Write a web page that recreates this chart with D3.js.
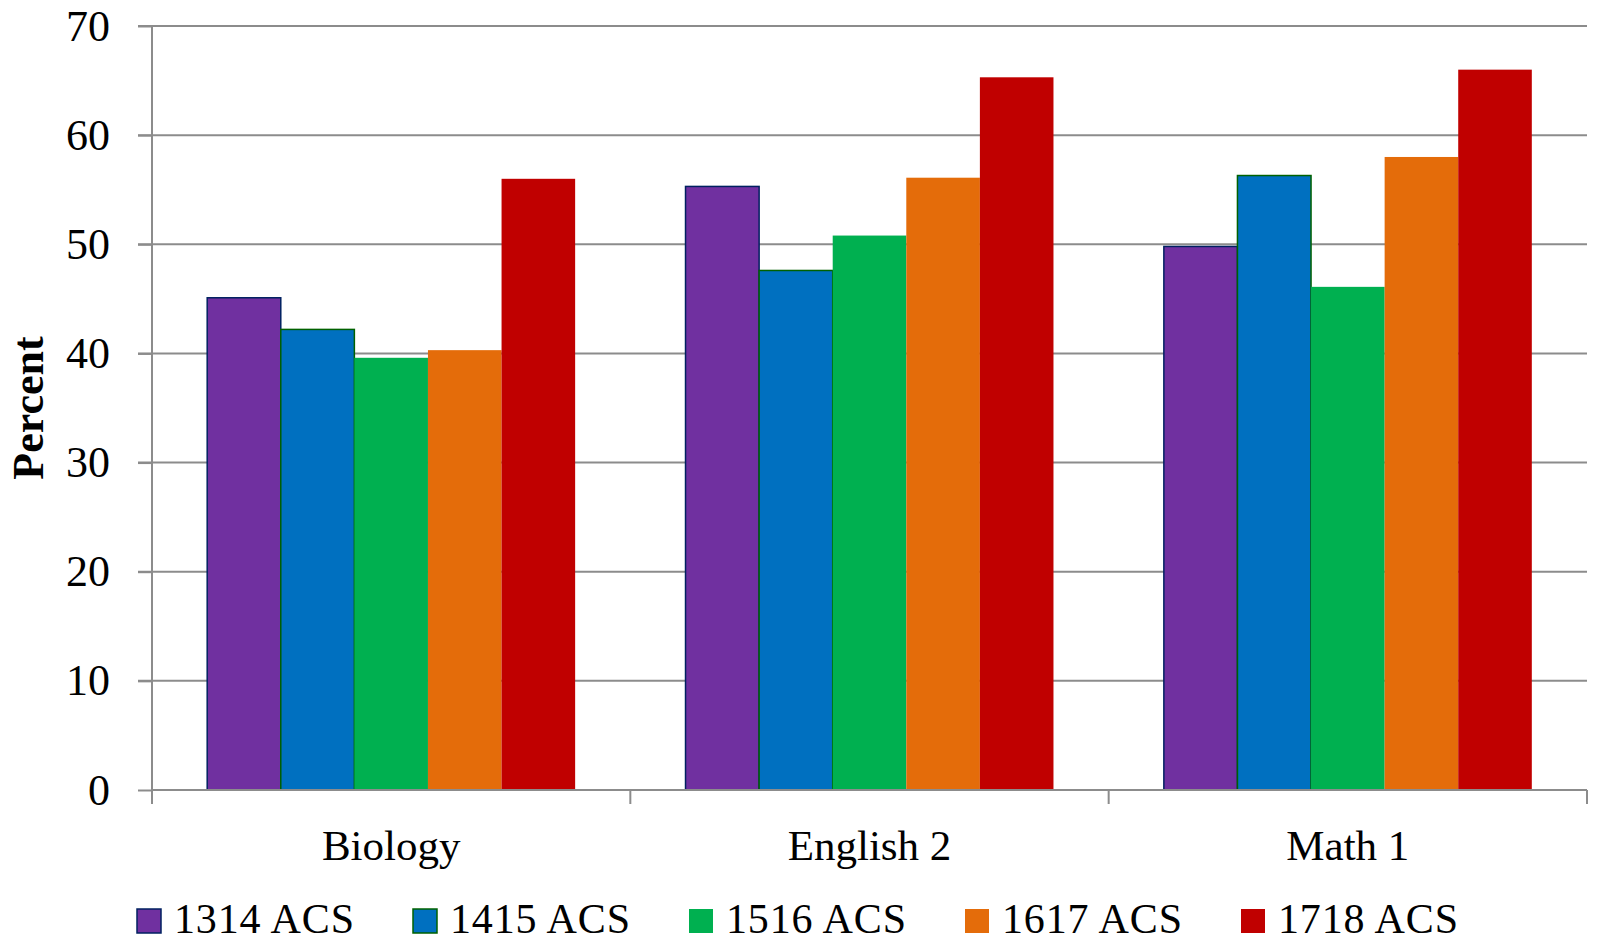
<!DOCTYPE html>
<html>
<head>
<meta charset="utf-8">
<script src="https://cdn.jsdelivr.net/npm/d3@7"></script>
<style>
  html, body { margin: 0; padding: 0; background: #fff; }
  svg { display: block; }
  text { font-family: "Liberation Serif", "Times New Roman", serif; fill: #000; }
</style>
</head>
<body>
<svg id="chart" width="1597" height="943"></svg>
<script>
// Pass rates by course and school year
const categories = ["Biology", "English 2", "Math 1"];
const seriesNames = ["1314 ACS", "1415 ACS", "1516 ACS", "1617 ACS", "1718 ACS"];
const s1314 = [45.1, 55.3, 49.8];
const s1415 = [42.2, 47.6, 56.3];
const s1516 = [39.6, 50.8, 46.1];
const s1617 = [40.3, 56.1, 58.0];
const s1718 = [56.0, 65.3, 66.0];
const yTicks = [0, 10, 20, 30, 40, 50, 60, 70];

const seriesValues = [s1314, s1415, s1516, s1617, s1718];
const fills = ["#7030A0", "#0070C0", "#00B050", "#E46C0A", "#C00000"];
const strokes = ["#002060", "#006100", "none", "none", "none"];

const svg = d3.select("#chart");
const plotLeft = 152, plotRight = 1587, plotTop = 26, plotBottom = 790;

const x0 = d3.scaleBand().domain(categories).range([plotLeft, plotRight]).padding(0);
const x1 = d3.scaleBand().domain(seriesNames).range([0, x0.bandwidth()])
  .paddingInner(0).paddingOuter(0.75);
const y = d3.scaleLinear().domain([0, 70]).range([plotBottom, plotTop]);

// horizontal gridlines with short outer ticks
const gridG = svg.append("g");
gridG.selectAll("line").data(yTicks.filter(d => d > 0)).join("line")
  .attr("x1", plotLeft - 14).attr("x2", plotRight)
  .attr("y1", d => y(d)).attr("y2", d => y(d))
  .attr("stroke", "#8c8c8c").attr("stroke-width", 2);

// bars
const groups = svg.append("g").selectAll("g").data(categories).join("g")
  .attr("transform", d => `translate(${x0(d)},0)`);
groups.selectAll("rect")
  .data((c, ci) => seriesNames.map((s, si) => ({ s, si, v: seriesValues[si][ci] })))
  .join("rect")
  .attr("x", d => x1(d.s))
  .attr("y", d => y(d.v))
  .attr("width", x1.bandwidth())
  .attr("height", d => y(0) - y(d.v))
  .attr("fill", d => fills[d.si])
  .attr("stroke", d => strokes[d.si])
  .attr("stroke-width", 1.5);

// y axis
const yAxis = d3.axisLeft(y).tickValues(yTicks).tickSize(14).tickPadding(28);
const yG = svg.append("g").attr("transform", `translate(${plotLeft},0)`).call(yAxis);
yG.select(".domain").attr("stroke", "#8c8c8c").attr("stroke-width", 2)
  .attr("d", `M0,${plotTop}V${plotBottom + 14}`);
yG.selectAll(".tick line").attr("stroke", "#8c8c8c").attr("stroke-width", 2);
yG.selectAll(".tick text").attr("font-size", 44)
  .attr("font-family", "Liberation Serif, serif").attr("dy", "0.32em");

// x axis
const xAxis = d3.axisBottom(x0).tickSize(0).tickPadding(0);
const xG = svg.append("g").attr("transform", `translate(0,${plotBottom})`).call(xAxis);
xG.select(".domain").attr("stroke", "#8c8c8c").attr("stroke-width", 2)
  .attr("d", `M${plotLeft},0H${plotRight}`);
xG.selectAll(".tick text").attr("font-size", 43)
  .attr("font-family", "Liberation Serif, serif").attr("y", 70).attr("dy", 0);
// category separators
xG.selectAll("line.sep").data(categories).join("line").attr("class", "sep")
  .attr("x1", d => x0(d) + x0.bandwidth()).attr("x2", d => x0(d) + x0.bandwidth())
  .attr("y1", 0).attr("y2", 14)
  .attr("stroke", "#8c8c8c").attr("stroke-width", 2);

// y axis title
svg.append("text")
  .attr("transform", "translate(43,408) rotate(-90)")
  .attr("text-anchor", "middle")
  .attr("font-size", 44).attr("font-weight", "bold")
  .text("Percent");

// legend
const legend = svg.append("g").selectAll("g").data(seriesNames).join("g")
  .attr("transform", (d, i) => `translate(${137 + i * 276},909)`);
legend.append("rect")
  .attr("width", 24).attr("height", 24)
  .attr("fill", (d, i) => fills[i])
  .attr("stroke", (d, i) => strokes[i]).attr("stroke-width", 1.5);
legend.append("text")
  .attr("x", 37).attr("y", 24)
  .attr("font-size", 42)
  .attr("textLength", 180).attr("lengthAdjust", "spacing")
  .text(d => d);
</script>
</body>
</html>
